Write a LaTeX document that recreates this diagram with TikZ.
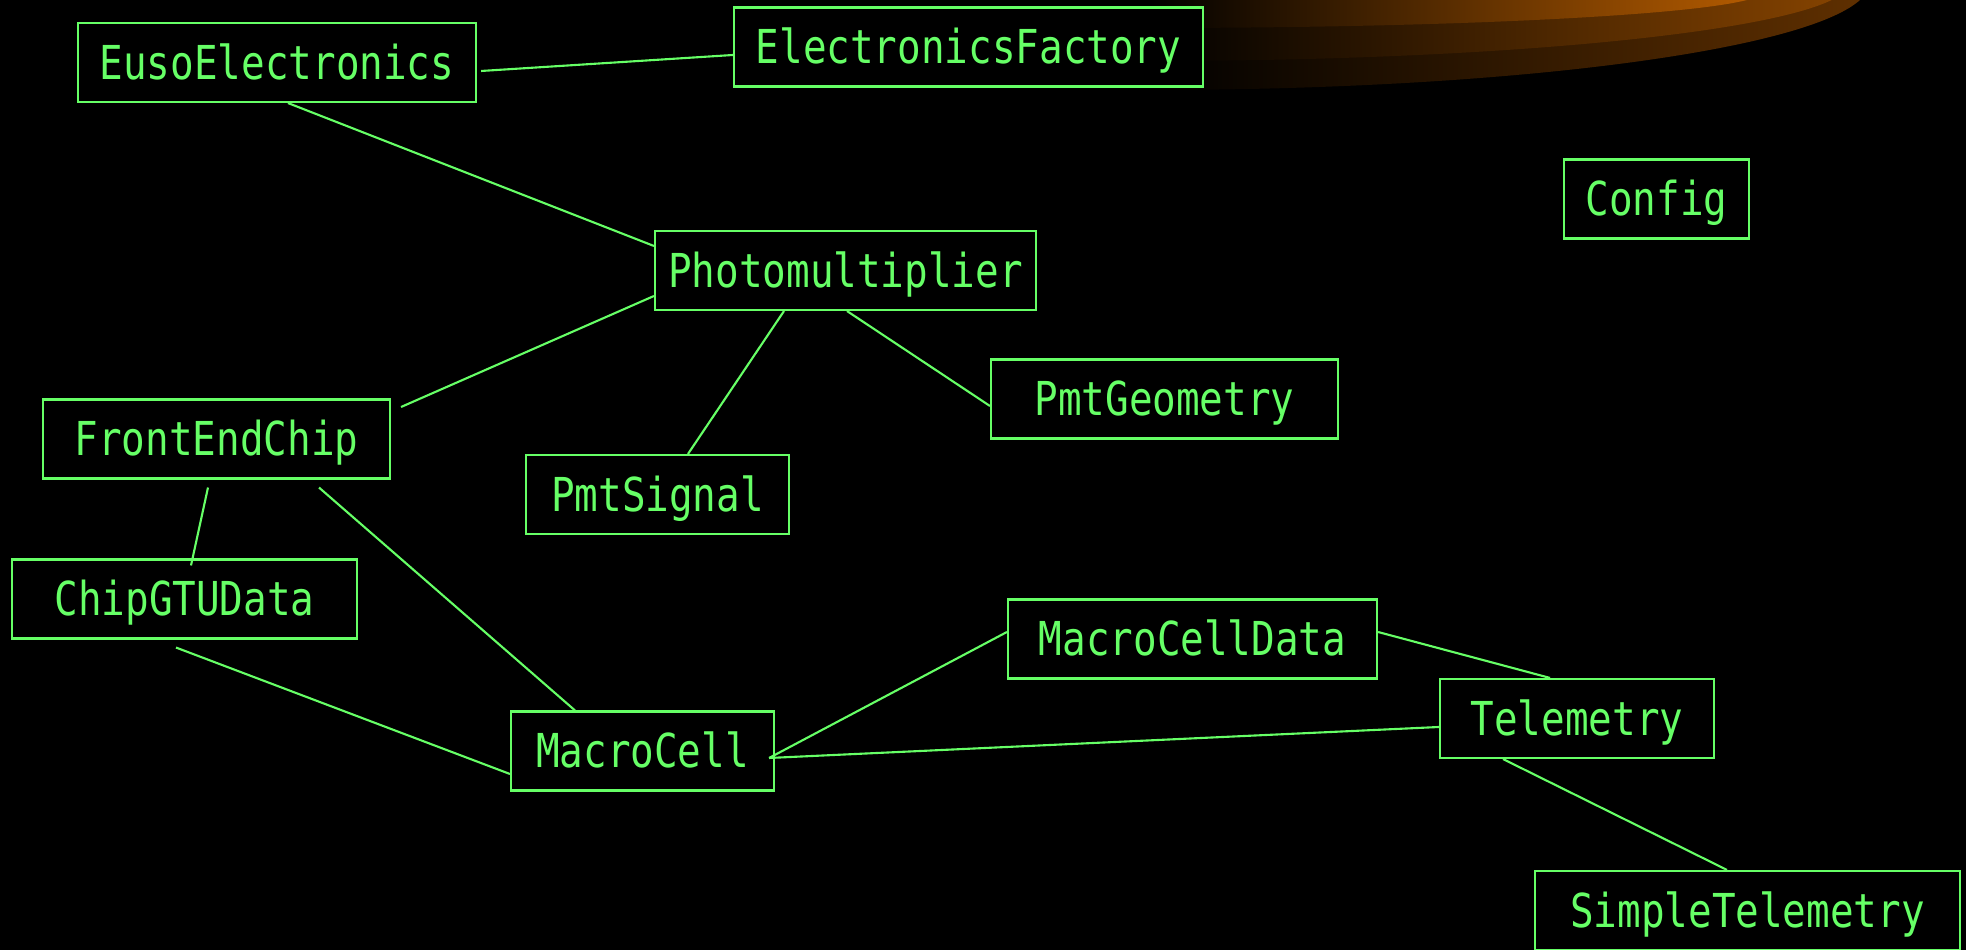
\documentclass[tikz,border=0pt]{standalone}
\usepackage{fontspec}
\usepackage{tikz}
\usetikzlibrary{positioning}
\usepackage{xcolor}

\newfontfamily\umlfont[FakeStretch=0.84]{DejaVu Sans Mono}
\definecolor{umlgreen}{RGB}{102,255,102}
\definecolor{bandhi}{RGB}{182,92,0}
\definecolor{bandmid}{RGB}{135,68,0}
\definecolor{bandlo}{RGB}{96,48,0}

\begin{document}
\begin{tikzpicture}[x=0.1mm,y=-0.1mm,
        cls/.style={draw=umlgreen,fill=black,text=umlgreen,line width=0.6pt,
            inner sep=0pt,minimum height=7.9mm,text height=3.4mm,text depth=0pt,
            font=\umlfont\fontsize{13.3}{16}\selectfont},
        link/.style={draw=umlgreen,line width=0.6pt}]
            \fill[black] (0,0) rectangle (1966,950);
            \useasboundingbox (0,0) rectangle (1966,950);
            \begin{scope}
                \clip (0,0) rectangle (1966,950);
                \shade[left color=black,right color=bandlo] (1150,-30) -- (1150,90) arc[start angle=90,end angle=0,x radius=720,y radius=108] -- cycle;
                \shade[left color=black,right color=bandmid] (1150,-30) -- (1150,61) arc[start angle=90,end angle=0,x radius=700,y radius=79] -- cycle;
                \shade[left color=black,right color=bandhi] (1150,-30) -- (1150,28) arc[start angle=90,end angle=0,x radius=612,y radius=36] -- cycle;
            \end{scope}

            \node [cls,minimum width=39.8mm] (euso) at (277,62.5) {EusoElectronics};
            \node [cls,minimum width=46.9mm] (factory) at (968.5,47) {ElectronicsFactory};
            \node [cls,minimum width=18.5mm] (config) at (1656.5,199) {Config};
            \node [cls,minimum width=38.1mm] (pmt) at (845.5,270.5) {Photomultiplier};
            \node [cls,minimum width=34.7mm] (pmtgeo) at (1164.5,399) {PmtGeometry};
            \node [cls,minimum width=26.3mm] (pmtsig) at (657.5,494.5) {PmtSignal};
            \node [cls,minimum width=34.7mm] (fec) at (216.5,439) {FrontEndChip};
            \node [cls,minimum width=34.5mm] (chip) at (184.5,599) {ChipGTUData};
            \node [cls,minimum width=26.3mm] (mcell) at (642.5,751) {MacroCell};
            \node [cls,minimum width=36.9mm] (mcdata) at (1192.5,639) {MacroCellData};
            \node [cls,minimum width=27.4mm] (telem) at (1577,718.5) {Telemetry};
            \node [cls,minimum width=42.5mm] (simple) at (1747.5,910.5) {SimpleTelemetry};
            \coordinate (mcout) at ([shift={(-6,7)}]mcell.east);

            \draw [link] ([shift={(4,8.5)}]euso.east) -- ([shift={(0,8)}]factory.west);
            \draw [link] ([shift={(11,0)}]euso.south) -- ([shift={(0,-24.5)}]pmt.west);
            \draw [link] ([shift={(0,25.5)}]pmt.west) -- ([shift={(10,-32)}]fec.east);
            \draw [link] ([shift={(-61.5,0)}]pmt.south) -- ([shift={(30.5,0)}]pmtsig.north);
            \draw [link] ([shift={(1.5,0)}]pmt.south) -- ([shift={(0,7)}]pmtgeo.west);
            \draw [link] ([shift={(-8.5,8)}]fec.south) -- ([shift={(6.5,7)}]chip.north);
            \draw [link] ([shift={(102.5,8)}]fec.south) -- ([shift={(-67.5,0)}]mcell.north);
            \draw [link] ([shift={(-8.5,8)}]chip.south) -- ([shift={(0,23)}]mcell.west);
            \draw [link] (mcout) -- ([shift={(0,-7)}]mcdata.west);
            \draw [link] (mcout) -- ([shift={(0,8.5)}]telem.west);
            \draw [link] ([shift={(0,-7)}]mcdata.east) -- ([shift={(-27,0)}]telem.north);
            \draw [link] ([shift={(-74,0)}]telem.south) -- ([shift={(-20.5,0)}]simple.north);
        \end{tikzpicture}
\end{document}
